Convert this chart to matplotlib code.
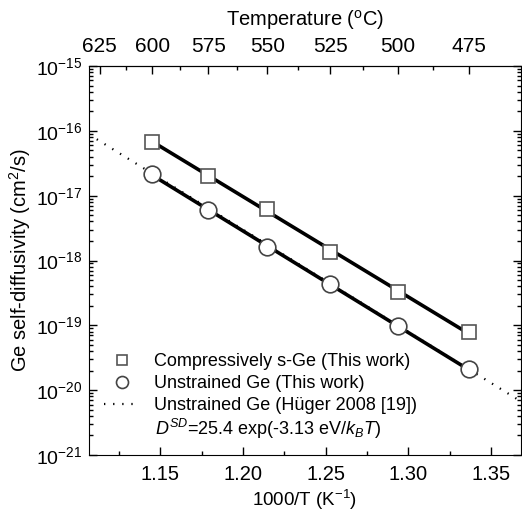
import numpy as np
import matplotlib.pyplot as plt
from matplotlib.ticker import MultipleLocator, FixedLocator, NullFormatter, LogFormatterSciNotation

plt.rcParams['font.family'] = ['Liberation Sans', 'DejaVu Sans']
plt.rcParams['mathtext.fontset'] = 'custom'
plt.rcParams['mathtext.rm'] = 'Liberation Sans'
plt.rcParams['mathtext.it'] = 'Liberation Sans:italic'
plt.rcParams['mathtext.default'] = 'regular'

# anneal temperatures (C) and measured diffusivities (cm^2/s)
temps_c = np.array([600, 575, 550, 525, 500, 475])
d_strained = np.array([6.8e-17, 2.03e-17, 6.2e-18, 1.36e-18, 3.3e-19, 7.8e-20])
d_unstrained = np.array([2.13e-17, 6.0e-18, 1.63e-18, 4.27e-19, 9.7e-20, 2.09e-20])

# Hueger 2008 literature line, read at the plot edges
hueger_x = np.array([1.107, 1.368])
hueger_d = np.array([8.8e-17, 6.7e-21])

top_ticks = [625, 600, 575, 550, 525, 500, 475]
top_minor = [612.5, 587.5, 562.5, 537.5, 512.5, 487.5]

x = 1000.0 / (temps_c + 273.15)

fig = plt.figure(figsize=(5.22, 5.15), dpi=100)
ax = fig.add_axes([0.1705, 0.1165, 0.8275, 0.7553])

def fit_line(xv, dv):
    p = np.polyfit(xv, np.log10(dv), 1)
    xx = np.array([xv.min(), xv.max()])
    return xx, 10 ** np.polyval(p, xx)

ax.plot(hueger_x, hueger_d, ls=(0, (0.6, 3.5)), color='black', lw=1.6,
        label='Unstrained Ge (Hüger 2008 [19])', zorder=2)

xs, ys = fit_line(x, d_strained)
ax.plot(xs, ys, color='black', lw=2.6, zorder=3)
xu, yu = fit_line(x, d_unstrained)
ax.plot(xu, yu, color='black', lw=2.6, zorder=3)

ax.plot(x, d_strained, ls='none', marker='s', ms=10.5, mfc='white', mec='#555555',
        mew=1.2, label='Compressively s-Ge (This work)', zorder=4)
ax.plot(x, d_unstrained, ls='none', marker='o', ms=12, mfc='white', mec='#444444',
        mew=1.2, label='Unstrained Ge (This work)', zorder=4)

ax.set_yscale('log')
ax.set_xlim(1.107, 1.368)
ax.set_ylim(1e-21, 1e-15)

ax.xaxis.set_major_locator(MultipleLocator(0.05))
ax.xaxis.set_minor_locator(MultipleLocator(0.025))
ax.xaxis.set_major_formatter(plt.FuncFormatter(lambda v, p: f'{v:.2f}'))
decades = np.arange(-21, -14)
ax.yaxis.set_major_locator(FixedLocator(10.0 ** decades))
ax.yaxis.set_major_formatter(LogFormatterSciNotation())
ax.yaxis.set_minor_locator(FixedLocator([m * 10.0 ** d for d in decades[:-1] for m in range(2, 10)]))
ax.yaxis.set_minor_formatter(NullFormatter())

ax.tick_params(axis='both', which='both', direction='in')
ax.tick_params(axis='x', labelsize=14.5, pad=7)
ax.tick_params(axis='y', labelsize=14, pad=5)
ax.tick_params(axis='y', which='both', right=True)
ax.tick_params(axis='x', which='both', top=False)
ax.tick_params(which='major', length=6, width=1)
ax.tick_params(which='minor', length=3, width=1)

ax.set_xlabel('1000/T (K$^{-1}$)', fontsize=13.5, labelpad=3)
ax.set_ylabel('Ge self-diffusivity (cm$^{2}$/s)', fontsize=14.5, labelpad=2)

conv = lambda v: 1000.0 / (np.asarray(v, dtype=float) + 273.15)
conv_back = lambda v: 1000.0 / np.asarray(v, dtype=float) - 273.15
sec = ax.secondary_xaxis('top', functions=(conv_back, conv))
sec.xaxis.set_major_locator(FixedLocator(top_ticks))
sec.xaxis.set_minor_locator(FixedLocator(top_minor))
sec.xaxis.set_major_formatter(plt.FuncFormatter(lambda v, p: f'{v:.0f}'))
sec.tick_params(which='both', direction='in', labelsize=15, pad=7)
sec.tick_params(which='major', length=6, width=1)
sec.tick_params(which='minor', length=3, width=1)
sec.set_xlabel('Temperature ($^{\\rm o}$C)', fontsize=14.5, labelpad=8)

handles, labels = ax.get_legend_handles_labels()
order = [1, 2, 0]
leg = ax.legend([handles[i] for i in order], [labels[i] for i in order],
                loc='upper left', bbox_to_anchor=(0.035, 0.262), frameon=False,
                fontsize=13, handlelength=2.0, handletextpad=0.75,
                labelspacing=0.28, borderaxespad=0.0, borderpad=0.0,
                markerscale=0.72)
ax.text(0.153, 0.067, '$\\it{D}^{\\it{SD}}$=25.4 exp(-3.13 eV/$\\it{k}_{\\it{B}}\\it{T}$)',
        transform=ax.transAxes, fontsize=13, va='center', ha='left')

fig.savefig('out.png', dpi=100)
